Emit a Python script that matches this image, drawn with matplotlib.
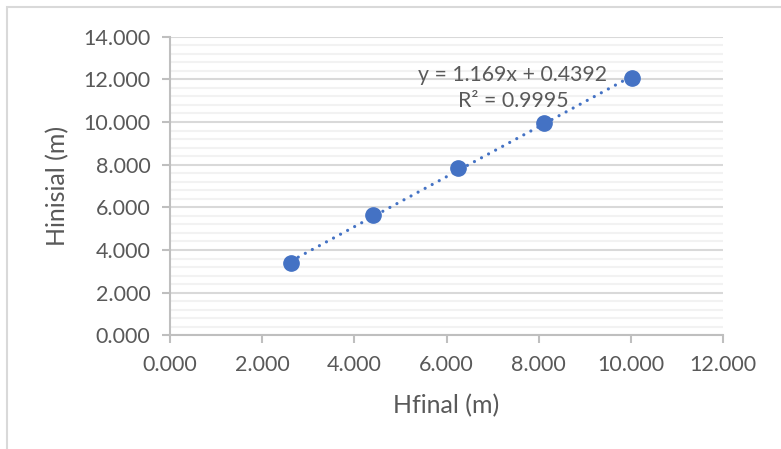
import numpy as np
import matplotlib
matplotlib.use("Agg")
import matplotlib.pyplot as plt
from matplotlib.patches import Rectangle
from matplotlib.ticker import MultipleLocator, FormatStrFormatter

# data
h_final = [2.63, 4.41, 6.26, 8.12, 10.03]
h_inisial = [3.38, 5.64, 7.83, 9.94, 12.08]
eq_text = "y = 1.169x + 0.4392"
r2_text = "R\u00b2 = 0.9995"
x_label = "Hfinal (m)"
y_label = "Hinisial (m)"

blue = "#4472C4"
grey_txt = "#595959"

plt.rcParams["font.family"] = ["Lato", "DejaVu Sans"]

fig = plt.figure(figsize=(7.81, 4.49), dpi=100)
ax = fig.add_axes([170 / 781, 1 - 335.3 / 449, 553 / 781, 298.6 / 449])

# chart area border
fig.patches.append(Rectangle((7 / 781, -0.1), 1.2, 1.1 - 7 / 449,
                             transform=fig.transFigure, fill=False,
                             edgecolor="#d9d9d9", linewidth=1.5))

# trendline
coef = np.polyfit(h_final, h_inisial, 1)
xs = np.array([min(h_final), max(h_final)])
ax.plot(xs, np.polyval(coef, xs), color=blue, linewidth=2.3,
        linestyle=(0, (0.01, 2.5)), dash_capstyle="round", zorder=3)

ax.plot(h_final, h_inisial, "o", color=blue, markersize=11, zorder=4)

ax.set_xlim(0, 12)
ax.set_ylim(0, 14)
ax.xaxis.set_major_locator(MultipleLocator(2))
ax.yaxis.set_major_locator(MultipleLocator(2))
ax.yaxis.set_minor_locator(MultipleLocator(0.4))
ax.xaxis.set_major_formatter(FormatStrFormatter("%.3f"))
ax.yaxis.set_major_formatter(FormatStrFormatter("%.3f"))

ax.grid(axis="y", which="major", color="#d9d9d9", linewidth=1.5)
ax.grid(axis="y", which="minor", color="#f2f2f2", linewidth=1.5)
ax.set_axisbelow(True)

for s in ["top", "right"]:
    ax.spines[s].set_visible(False)
for s in ["left", "bottom"]:
    ax.spines[s].set_color("#bfbfbf")
    ax.spines[s].set_linewidth(1.5)

ax.tick_params(axis="both", which="major", direction="out", length=6,
               width=1.5, color="#bfbfbf", labelcolor=grey_txt, labelsize=15.5)
ax.tick_params(axis="y", which="minor", length=0)
ax.tick_params(axis="y", pad=8)
ax.tick_params(axis="x", pad=8)

ax.set_xlabel(x_label, fontsize=18, color=grey_txt, labelpad=14)
ax.set_ylabel(y_label, fontsize=18, color=grey_txt, labelpad=10)

ax.text(418 / 781, 1 - 75 / 449, eq_text, transform=fig.transFigure,
        fontsize=15.3, color=grey_txt, ha="left", va="center")
ax.text(458 / 781, 1 - 101 / 449, r2_text, transform=fig.transFigure,
        fontsize=15.3, color=grey_txt, ha="left", va="center")

fig.savefig("out.png", dpi=100)
